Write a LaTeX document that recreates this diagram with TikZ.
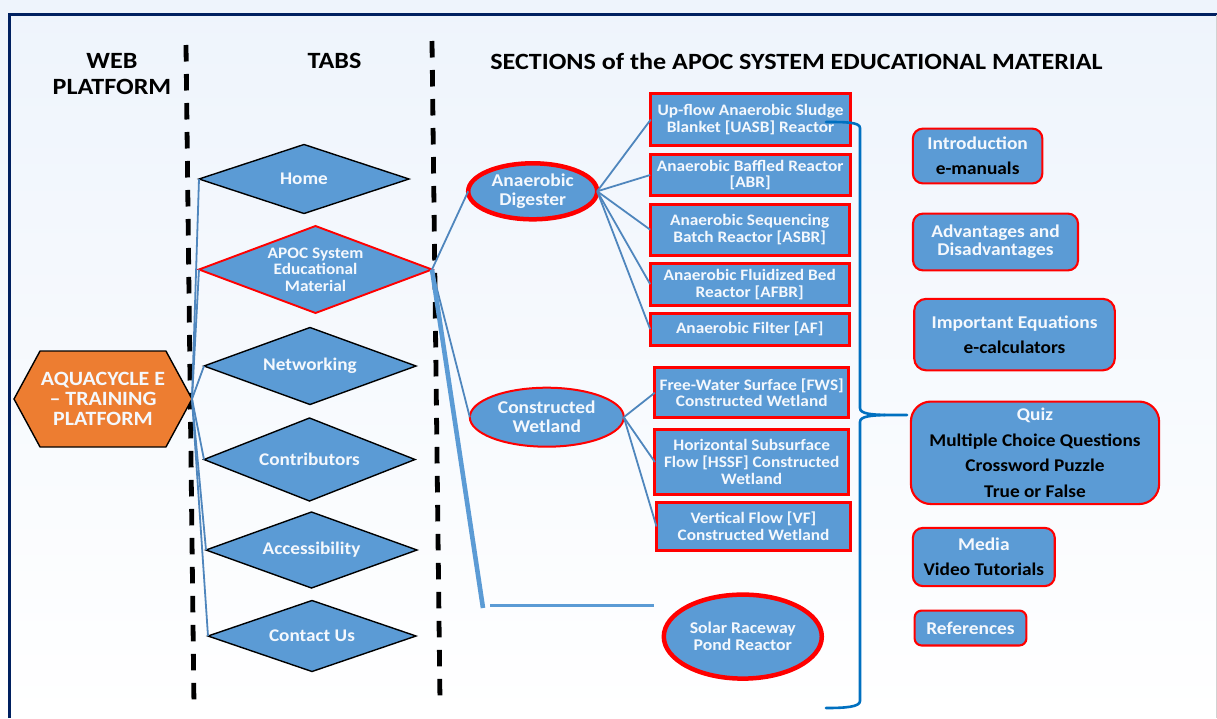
\documentclass[tikz,border=0pt]{standalone}
\usepackage{fontspec}
\setmainfont{Carlito}[FakeStretch=1.08]
\newfontfamily\headfont{Carlito}[FakeStretch=1.12]
\usetikzlibrary{shapes.geometric,shapes.symbols}
\definecolor{fillblue}{HTML}{5B9BD5}
\definecolor{linkblue}{HTML}{4F86BD}
\definecolor{bracblue}{HTML}{0070C0}
\definecolor{navy}{HTML}{002060}
\definecolor{hexor}{HTML}{ED7D31}
\definecolor{softw}{HTML}{F4F8FD}
\definecolor{bgtop}{HTML}{EEF4FC}
\newcommand{\fs}[2]{\fontsize{#1}{#2}\selectfont}
\tikzset{
  head/.style={font=\headfont\bfseries\fs{23.3}{26.5}, align=center, text=black, inner sep=0pt},
  tab/.style={diamond, draw=black, line width=1.4pt, fill=fillblue, inner sep=0pt, outer sep=0pt, text=softw, align=center, font=\bfseries\fs{17.8}{16.5}},
  redbox/.style={rectangle, draw=red, line width=3pt, fill=fillblue, inner sep=0pt, outer sep=0pt, text=softw, align=center, font=\bfseries\fs{16}{16.8}},
  rnd/.style={rectangle, rounded corners=#1, draw=red, line width=2.1pt, fill=fillblue, inner sep=0pt, outer sep=0pt, text=softw, align=center, font=\bfseries\fs{18}{18.4}},
  oval/.style={ellipse, draw=red, fill=fillblue, inner sep=0pt, outer sep=0pt, text=softw, align=center, font=\bfseries\fs{18}{19}},
  divider/.style={draw=black, line width=4.8pt, dash pattern=on 16.5pt off 12.5pt},
  link/.style={draw=linkblue, line width=1.8pt},
  thicklink/.style={draw=fillblue, line width=4.6pt},
  brace/.style={draw=bracblue, line width=2.6pt, line cap=round}
}
\begin{document}
\begin{tikzpicture}[x=1pt,y=-1pt]
\useasboundingbox (0,0) rectangle (1217,718);
\shade[top color=bgtop, bottom color=white] (0,0) rectangle (1217,718);
\draw[navy, line width=2.6pt] (9.5,718) -- (9.5,14.5) -- (1217,14.5);
\draw[gray!35, line width=0.8pt] (1216.6,15) -- (1216.6,718);
% dividers
\coordinate (d1a) at (186,45);
\coordinate (d1b) at (194,706);
\coordinate (d2a) at (432,41);
\coordinate (d2b) at (440,702);
\draw[divider] (d1a) -- (d1b);
\draw[divider] (d2a) -- (d2b);
% headings
\node[head] (hweb) at (112,74) {WEB\\PLATFORM};
\node[head] (htabs) at (334.5,61) {TABS};
\node[head] (hsec) at (796.5,61) {SECTIONS of the APOC SYSTEM EDUCATIONAL MATERIAL};
% hexagon
\node[signal, signal to=east and west, signal pointer angle=123, draw=black, line width=1.4pt, fill=hexor, inner sep=0pt, outer sep=0pt, minimum width=178pt, minimum height=96pt, text=softw, align=center, font=\bfseries\fs{20.3}{20.3}] (hex) at (103,399) {AQUACYCLE E\\– TRAINING\\PLATFORM};
% tabs
\node[tab, aspect=3.04, minimum width=210pt, minimum height=69pt] (home) at (304,179) {Home};
\node[tab, aspect=2.68, minimum width=233pt, minimum height=87pt, font=\bfseries\fs{16}{16.6}, draw=red, line width=1.9pt] (apoc) at (315.5,269.5) {APOC System\\Educational\\Material};
\node[tab, aspect=2.75, minimum width=212pt, minimum height=77pt] (net) at (310,366) {Networking};
\node[tab, aspect=2.54, minimum width=211pt, minimum height=83pt] (con) at (309.5,459.5) {Contributors};
\node[tab, aspect=2.78, minimum width=211pt, minimum height=76pt] (acc) at (311.5,550) {Accessibility};
\node[tab, aspect=2.93, minimum width=208pt, minimum height=71pt] (cus) at (312,636) {Contact Us};
% ovals
\node[oval, line width=4.5pt, minimum width=129pt, minimum height=56pt] (ad) at (532.7,191.3) {Anaerobic\\Digester};
\node[oval, line width=2pt, minimum width=154pt, minimum height=59pt] (cw) at (546.8,417.2) {Constructed\\Wetland};
\node[oval, line width=4.5pt, minimum width=158pt, minimum height=84pt, font=\bfseries\fs{16.4}{16.8}] (sr) at (742.8,636.6) {Solar Raceway\\Pond Reactor};
% reactor boxes
\node[redbox, minimum width=199.4pt, minimum height=52pt] (uasb) at (750.5,119.5) {Up-flow Anaerobic Sludge\\Blanket [UASB] Reactor};
\node[redbox, minimum width=200pt, minimum height=40.4pt] (abr) at (750.2,175) {Anaerobic Baffled Reactor\\{[ABR]}};
\node[redbox, minimum width=199pt, minimum height=51pt] (asbr) at (749.7,229.7) {Anaerobic Sequencing\\Batch Reactor [ASBR]};
\node[redbox, minimum width=199pt, minimum height=42pt] (afbr) at (749.7,284.2) {Anaerobic Fluidized Bed\\Reactor [AFBR]};
\node[redbox, minimum width=199pt, minimum height=32pt] (af) at (749.7,329.2) {Anaerobic Filter [AF]};
\node[redbox, minimum width=193.7pt, minimum height=50.3pt] (fws) at (751.7,392.7) {Free-Water Surface [FWS]\\Constructed Wetland};
\node[redbox, minimum width=193.7pt, minimum height=64.4pt] (hssf) at (751.7,462) {Horizontal Subsurface\\Flow [HSSF] Constructed\\Wetland};
\node[redbox, minimum width=194pt, minimum height=48.6pt] (vf) at (753.5,526.5) {Vertical Flow [VF]\\Constructed Wetland};
% rounded boxes
\node[rnd=10pt, minimum width=129.5pt, minimum height=54.8pt] (intro) at (977.6,156) {Introduction\\[7pt]\textcolor{black}{\fs{17.9}{18}e-manuals}};
\node[rnd=10pt, minimum width=165pt, minimum height=56.8pt] (adv) at (995.5,242) {Advantages and\\Disadvantages};
\node[rnd=12pt, minimum width=200.6pt, minimum height=71.5pt] (imp) at (1014.5,334.6) {Important Equations\\[7pt]\textcolor{black}{\fs{17.9}{18}e-calculators}};
\node[rnd=20pt, minimum width=248.2pt, minimum height=102.5pt, font=\bfseries\fs{17.9}{25.6}] (quiz) at (1035,452.8) {Quiz\\\textcolor{black}{Multiple Choice Questions}\\\textcolor{black}{Crossword Puzzle}\\\textcolor{black}{True or False}};
\node[rnd=10pt, minimum width=141.9pt, minimum height=58.2pt] (media) at (983.8,557) {Media\\[7pt]\textcolor{black}{\fs{17.9}{18}Video Tutorials}};
\node[rnd=7pt, minimum width=111.8pt, minimum height=34.9pt] (refs) at (970.5,628) {References};
% connectors
\foreach \t in {home,apoc,net,con,acc,cus} \draw[link] (hex.east) -- (\t.west);
\draw[link] (apoc.east) -- (ad.west);
\draw[link] (apoc.east) -- (cw.west);
\foreach \t in {uasb,abr,asbr,afbr,af} \draw[link] (ad.east) -- (\t.west);
\foreach \t in {fws,hssf,vf} \draw[link] (cw.east) -- (\t.west);
\coordinate (ta) at (483,608);
\coordinate (tb) at (490,605.5);
\coordinate (tc) at (654,605.5);
\draw[thicklink] (apoc.east) -- (ta);
\draw[thicklink, line width=3.6pt] (tb) -- (tc);
% brace
\coordinate (b1) at (826,122);
\coordinate (b2) at (907,415);
\coordinate (b3) at (826,708);
\draw[brace] (b1) .. controls (845,122) and (860,122) .. (860,128) -- (860,408) .. controls (860,414) and (872,414.5) .. (885,415) -- (b2);
\draw[brace] (885,415) .. controls (872,415.5) and (860,416) .. (860,422) -- (860,701) .. controls (860,707) and (845,708) .. (b3);
\end{tikzpicture}
\end{document}
